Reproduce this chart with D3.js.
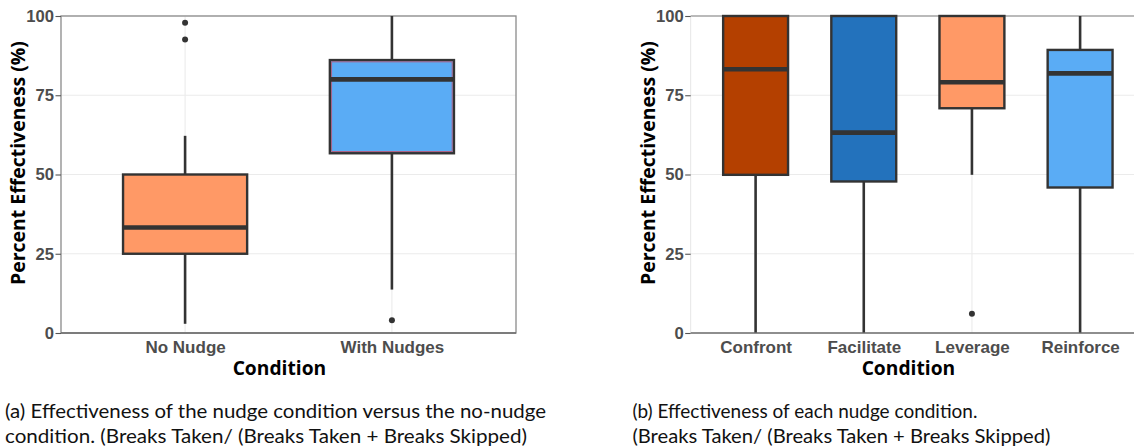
<!DOCTYPE html>
<html>
<head>
<meta charset="utf-8">
<script src="https://cdn.jsdelivr.net/npm/d3@7"></script>
<style>
  html, body { margin: 0; padding: 0; background: #fff; }
  svg { display: block; }
</style>
</head>
<body>
<svg id="chart" width="1134" height="448"></svg>
<script>
// ---------------- data ----------------
const yTicks = [0, 25, 50, 75, 100];

const leftCats   = ["No Nudge", "With Nudges"];
const leftQ1     = [25, 56.7];
const leftMedian = [33.3, 80.0];
const leftQ3     = [50, 86.1];
const leftLow    = [2.9, 13.7];
const leftHigh   = [62.2, 100];
const leftOut    = [[97.9, 92.6], [4.0]];
const leftColors = ["#ff9966", "#5aacf5"];

const rightCats   = ["Confront", "Facilitate", "Leverage", "Reinforce"];
const rightQ1     = [49.9, 47.8, 70.9, 45.9];
const rightMedian = [83.2, 63.2, 79.1, 81.9];
const rightQ3     = [100, 100, 100, 89.3];
const rightLow    = [0, 0, 49.9, 0];
const rightHigh   = [100, 100, 100, 100];
const rightOut    = [[], [], [6.1], []];
const rightColors = ["#b44000", "#2372bc", "#ff9966", "#5aacf5"];

const yTitle = "Percent Effectiveness (%)";
const xTitle = "Condition";
const captionA = ["(a) Effectiveness of the nudge condition versus the no-nudge",
                  "condition. (Breaks Taken/ (Breaks Taken + Breaks Skipped)"];
const captionB = ["(b) Effectiveness of each nudge condition.",
                  "(Breaks Taken/ (Breaks Taken + Breaks Skipped)"];

// ---------------- drawing ----------------
const svg = d3.select("#chart");
const TICK_FONT = "'Liberation Sans', Arial, sans-serif";
const TITLE_FONT = "'Open Sans', 'Noto Sans', sans-serif";
const CAP_FONT = "Lato, 'Noto Sans', sans-serif";

function fit(sel, target) {
  const w = sel.node().getComputedTextLength();
  const fs = parseFloat(sel.attr("font-size"));
  sel.attr("font-size", (fs * target / w).toFixed(2));
  return fs * target / w;
}

function drawPanel(cfg) {
  const g = svg.append("g");
  const x = d3.scalePoint().domain(cfg.cats).range([cfg.x0, cfg.x1]).padding(0.6);
  const y = d3.scaleLinear().domain([0, 100]).range([cfg.y1, cfg.y0]);
  const bw = x.step() * 0.6;

  // grid
  g.append("g").selectAll("line.h").data(yTicks).join("line")
    .attr("x1", cfg.x0).attr("x2", Math.min(cfg.x1, 1134))
    .attr("y1", d => y(d)).attr("y2", d => y(d))
    .attr("stroke", "#ebebeb").attr("stroke-width", 1.1);
  g.append("g").selectAll("line.v").data(cfg.cats).join("line")
    .attr("x1", d => x(d)).attr("x2", d => x(d))
    .attr("y1", cfg.y0).attr("y2", cfg.y1)
    .attr("stroke", "#ebebeb").attr("stroke-width", 1.1);

  // frame
  if (cfg.border) {
    g.append("rect").attr("x", cfg.x0).attr("y", cfg.y0)
      .attr("width", cfg.x1 - cfg.x0).attr("height", cfg.y1 - cfg.y0)
      .attr("fill", "none").attr("stroke", "#8a8a8a").attr("stroke-width", 1.3);
  } else {
    g.append("line").attr("x1", cfg.x0).attr("x2", 1134).attr("y1", cfg.y0).attr("y2", cfg.y0)
      .attr("stroke", "#a6a6a6").attr("stroke-width", 1.3);
    g.append("line").attr("x1", cfg.x0).attr("x2", cfg.x0).attr("y1", cfg.y0).attr("y2", cfg.y1)
      .attr("stroke", "#e6e6e6").attr("stroke-width", 1);
  }

  const idx = cfg.cats.map((c, i) => i);
  // whiskers
  g.append("g").selectAll("line.wu").data(idx).join("line")
    .attr("x1", i => x(cfg.cats[i])).attr("x2", i => x(cfg.cats[i]))
    .attr("y1", i => y(cfg.q3[i])).attr("y2", i => y(cfg.high[i]))
    .attr("stroke", "#333").attr("stroke-width", 2.6);
  g.append("g").selectAll("line.wl").data(idx).join("line")
    .attr("x1", i => x(cfg.cats[i])).attr("x2", i => x(cfg.cats[i]))
    .attr("y1", i => y(cfg.q1[i])).attr("y2", i => y(cfg.low[i]))
    .attr("stroke", "#333").attr("stroke-width", 2.6);

  // boxes
  g.append("g").selectAll("rect").data(idx).join("rect")
    .attr("x", i => x(cfg.cats[i]) - bw / 2).attr("width", bw)
    .attr("y", i => y(cfg.q3[i])).attr("height", i => y(cfg.q1[i]) - y(cfg.q3[i]))
    .attr("fill", i => cfg.colors[i]).attr("stroke", "#333").attr("stroke-width", 2.4);

  // thin reddish inner outline (seen on the With Nudges box)
  if (cfg.innerRed) {
    const i = cfg.innerRed;
    const gi = g.append("g").attr("fill", "none").attr("stroke", "#c2506a").attr("stroke-width", 0.8);
    gi.append("rect").attr("x", x(cfg.cats[i]) - bw / 2 + 1.8).attr("width", bw - 3.6)
      .attr("y", y(cfg.q3[i]) + 1.8).attr("height", y(cfg.q1[i]) - y(cfg.q3[i]) - 3.6);
  }

  // medians
  g.append("g").selectAll("line.m").data(idx).join("line")
    .attr("x1", i => x(cfg.cats[i]) - bw / 2).attr("x2", i => x(cfg.cats[i]) + bw / 2)
    .attr("y1", i => y(cfg.median[i])).attr("y2", i => y(cfg.median[i]))
    .attr("stroke", "#333").attr("stroke-width", 4.6);

  // outliers
  const outs = [];
  cfg.out.forEach((arr, i) => arr.forEach(v => outs.push({ c: cfg.cats[i], v })));
  g.append("g").selectAll("circle").data(outs).join("circle")
    .attr("cx", d => x(d.c)).attr("cy", d => y(d.v)).attr("r", 3)
    .attr("fill", "#333");

  // axes
  const ya = g.append("g").attr("transform", `translate(${cfg.x0},0)`)
    .call(d3.axisLeft(y).tickValues(yTicks).tickSize(5.5).tickPadding(1.5));
  ya.select(".domain").remove();
  ya.selectAll(".tick line").attr("stroke", "#555").attr("stroke-width", 1.1);
  ya.selectAll(".tick text").attr("fill", "#4d4d4d").attr("font-family", TICK_FONT)
    .attr("font-weight", "bold").attr("font-size", 16.6);

  const xa = g.append("g").attr("transform", `translate(0,${cfg.y1})`)
    .call(d3.axisBottom(x).tickSize(0).tickPadding(8));
  xa.select(".domain").attr("d", `M${cfg.x0},0H${Math.min(cfg.x1, 1134)}`)
    .attr("stroke", "#6b6b6b").attr("stroke-width", 1.5);
  xa.selectAll(".tick text").attr("fill", "#4d4d4d").attr("font-family", TICK_FONT)
    .attr("font-weight", "bold").attr("font-size", 17)
    .attr("y", 14).attr("dy", "0.35em");

  // titles
  const xt = g.append("text").text(xTitle)
    .attr("x", cfg.xtX).attr("y", 375).attr("text-anchor", "middle")
    .attr("font-family", TITLE_FONT).attr("font-weight", 700).attr("font-size", 18)
    .attr("fill", "#000");
  fit(xt, 93.6);
  const yt = g.append("text").text(yTitle)
    .attr("transform", `translate(${cfg.ytX},163) rotate(-90)`).attr("text-anchor", "middle")
    .attr("font-family", TITLE_FONT).attr("font-weight", 700).attr("font-size", 18)
    .attr("fill", "#000");
  fit(yt, 244);
}

drawPanel({
  cats: leftCats, q1: leftQ1, median: leftMedian, q3: leftQ3, low: leftLow, high: leftHigh,
  out: leftOut, colors: leftColors,
  x0: 61, x1: 516, y0: 16, y1: 333, border: true, innerRed: 1,
  xtX: 279.4, ytX: 25
});
drawPanel({
  cats: rightCats, q1: rightQ1, median: rightMedian, q3: rightQ3, low: rightLow, high: rightHigh,
  out: rightOut, colors: rightColors,
  x0: 690.7, x1: 1145, y0: 16, y1: 333, border: false,
  xtX: 908.4, ytX: 654.5
});

// captions (slightly condensed humanist sans, fitted to the reference line widths)
const capG = svg.append("g").attr("font-family", CAP_FONT).attr("fill", "#111").attr("font-size", 19.5);
function capLine(txt, x, y, w) {
  capG.append("text").text(txt).attr("x", x).attr("y", y)
    .attr("textLength", w).attr("lengthAdjust", "spacingAndGlyphs");
}
capLine(captionA[0], 5, 418, 541);
capLine(captionA[1], 5, 443, 522);
capLine(captionB[0], 632.4, 418, 345);
capLine(captionB[1], 632.4, 443, 418);
</script>
</body>
</html>
